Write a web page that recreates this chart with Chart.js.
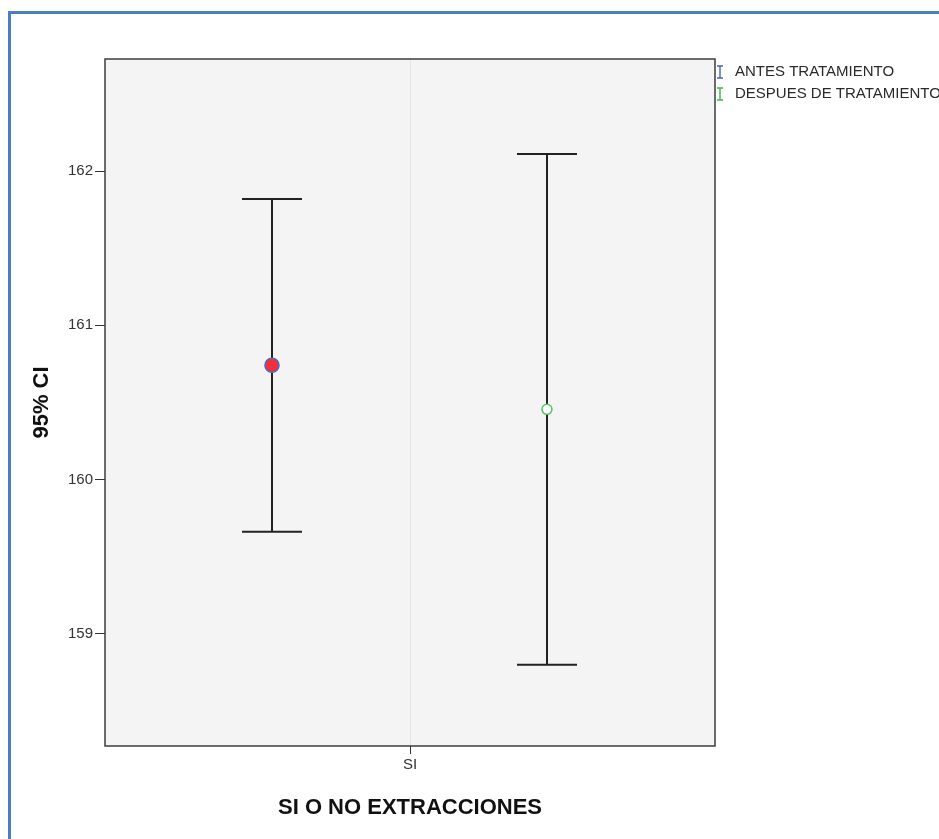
<!DOCTYPE html>
<html>
<head>
<meta charset="utf-8">
<script src="https://cdn.jsdelivr.net/npm/chart.js@4"></script>
<style>
  html, body { margin: 0; padding: 0; background: #ffffff; }
  #wrap { width: 939px; height: 839px; }
</style>
</head>
<body>
<div id="wrap"><canvas id="c" width="939" height="839"></canvas></div>
<script>
// Group on the x axis and the two series measured within it
const categories = ['SI'];
const seriesNames = ['ANTES TRATAMIENTO', 'DESPUES DE TRATAMIENTO'];
// Means and 95% confidence limits per series
const means = [160.741, 160.456];
const lowerCI = [159.663, 158.800];
const upperCI = [161.818, 162.110];
const yTicks = [159, 160, 161, 162];

// Side-by-side dodge of the series around the group centre
const dodge = [-0.4525, 0.449];
const markerStyles = [
  { r: 7, fill: '#f2303c', stroke: '#5566c8', legend: '#4a5fc0' },
  { r: 5, fill: '#ffffff', stroke: '#5cc46a', legend: '#3fb24f' }
];

const datasets = seriesNames.map((name, i) => ({
  label: name,
  data: categories.map((c, ci) => ({ x: ci + dodge[i], y: means[i] })),
  pointRadius: markerStyles[i].r,
  pointHoverRadius: markerStyles[i].r,
  pointBackgroundColor: markerStyles[i].fill,
  pointBorderColor: markerStyles[i].stroke,
  pointBorderWidth: 1.6,
  showLine: false
}));

const framePlugin = {
  id: 'frame',
  beforeDraw(chart) {
    const { ctx, chartArea: a } = chart;
    ctx.save();
    // outer blue frame
    ctx.strokeStyle = '#4c7fbf';
    ctx.lineWidth = 3;
    ctx.beginPath();
    ctx.moveTo(9.5, 839);
    ctx.lineTo(9.5, 12.5);
    ctx.lineTo(939, 12.5);
    ctx.stroke();
    // plot background
    ctx.fillStyle = '#f4f4f4';
    ctx.fillRect(a.left, a.top, a.right - a.left, a.bottom - a.top);
    ctx.restore();
  },
  beforeDatasetsDraw(chart) {
    const { ctx } = chart;
    const ys = chart.scales.y;
    ctx.save();
    ctx.strokeStyle = '#222222';
    ctx.lineWidth = 2;
    chart.data.datasets.forEach((ds, i) => {
      const meta = chart.getDatasetMeta(i);
      meta.data.forEach((pt) => {
        const x = Math.round(pt.x);
        const yl = ys.getPixelForValue(lowerCI[i]);
        const yu = ys.getPixelForValue(upperCI[i]);
        const hw = 30;
        ctx.beginPath();
        ctx.moveTo(x, yu); ctx.lineTo(x, yl);
        ctx.moveTo(x - hw, yu); ctx.lineTo(x + hw, yu);
        ctx.moveTo(x - hw, yl); ctx.lineTo(x + hw, yl);
        ctx.stroke();
      });
    });
    ctx.restore();
  },
  afterDraw(chart) {
    const { ctx, chartArea: a } = chart;
    ctx.save();
    // plot border
    ctx.strokeStyle = '#3c3c3c';
    ctx.lineWidth = 1.5;
    ctx.strokeRect(a.left, a.top, a.right - a.left, a.bottom - a.top);
    // legend with error-bar glyphs
    ctx.font = '15px "Liberation Sans", Arial, sans-serif';
    ctx.textBaseline = 'middle';
    seriesNames.forEach((name, i) => {
      const cy = 72 + i * 22;
      const gx = 720;
      ctx.strokeStyle = markerStyles[i].legend;
      ctx.lineWidth = 1.4;
      ctx.beginPath();
      ctx.moveTo(gx, cy - 6); ctx.lineTo(gx, cy + 6);
      ctx.moveTo(gx - 3, cy - 6); ctx.lineTo(gx + 3, cy - 6);
      ctx.moveTo(gx - 3, cy + 6); ctx.lineTo(gx + 3, cy + 6);
      ctx.stroke();
      ctx.fillStyle = '#2a2a2a';
      ctx.fillText(name, 735, cy);
    });
    ctx.restore();
  }
};

new Chart(document.getElementById('c'), {
  type: 'scatter',
  data: { datasets },
  plugins: [framePlugin],
  options: {
    responsive: false,
    animation: false,
    devicePixelRatio: 1,
    layout: { padding: { left: 0, top: 59, right: 224, bottom: 0 } },
    plugins: { legend: { display: false }, tooltip: { enabled: false } },
    scales: {
      x: {
        type: 'linear',
        min: -1,
        max: categories.length,
        afterBuildTicks(s) { s.ticks = categories.map((c, i) => ({ value: i })); },
        afterFit(s) { s.height = 93; },
        ticks: {
          callback: (v) => categories[v] ?? '',
          color: '#333333',
          font: { family: '"Liberation Sans", Arial, sans-serif', size: 15 },
          padding: 2,
          maxRotation: 0
        },
        grid: {
          color: '#e4e4e4',
          tickColor: '#333333',
          tickLength: 8,
          lineWidth: 1
        },
        border: { display: false },
        title: {
          display: true,
          text: 'SI O NO EXTRACCIONES',
          color: '#111111',
          font: { family: '"Liberation Sans", Arial, sans-serif', size: 22, weight: 'bold' },
          padding: { top: 0, bottom: 18 }
        }
      },
      y: {
        min: 158.274,
        max: 162.726,
        afterBuildTicks(s) { s.ticks = yTicks.map(v => ({ value: v })); },
        afterFit(s) { s.width = 105; },
        ticks: {
          color: '#333333',
          font: { family: '"Liberation Sans", Arial, sans-serif', size: 15 },
          padding: 2
        },
        grid: {
          drawOnChartArea: false,
          tickColor: '#333333',
          tickLength: 10
        },
        border: { display: false },
        title: {
          display: true,
          text: '95% CI',
          color: '#111111',
          font: { family: '"Liberation Sans", Arial, sans-serif', size: 22, weight: 'bold' },
          padding: { top: 29, bottom: 0 }
        }
      }
    }
  }
});
</script>
</body>
</html>
